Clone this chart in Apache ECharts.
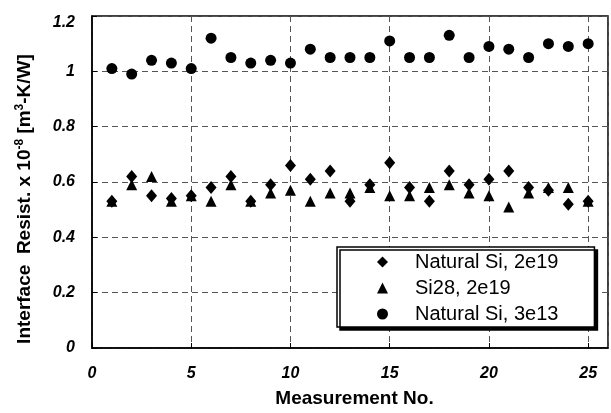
<!DOCTYPE html>
<html>
<head>
<meta charset="utf-8">
<title>Interface Resist.</title>
<script src="https://cdn.jsdelivr.net/npm/echarts@6/dist/echarts.min.js"></script>
<style>
	html, body { margin: 0; padding: 0; background: #fff; }
	#resist_chart { width: 611px; height: 413px; }
</style>
</head>
<body>
<div id="resist_chart"></div>
<script>
var measurement_no = [1, 2, 3, 4, 5, 6, 7, 8, 9, 10, 11, 12, 13, 14, 15, 16, 17, 18, 19, 20, 21, 22, 23, 24, 25];
var natural_si_2e19 = [0.53, 0.62, 0.55, 0.54, 0.55, 0.58, 0.62, 0.53, 0.59, 0.66, 0.61, 0.64, 0.53, 0.59, 0.67, 0.58, 0.53, 0.64, 0.59, 0.61, 0.64, 0.58, 0.57, 0.52, 0.53];
var si28_2e19 = [0.53, 0.59, 0.62, 0.53, 0.55, 0.53, 0.59, 0.53, 0.56, 0.57, 0.53, 0.56, 0.56, 0.58, 0.55, 0.55, 0.58, 0.59, 0.56, 0.55, 0.51, 0.56, 0.58, 0.58, 0.53];
var natural_si_3e13 = [1.01, 0.99, 1.04, 1.03, 1.01, 1.12, 1.05, 1.03, 1.04, 1.03, 1.08, 1.05, 1.05, 1.05, 1.11, 1.05, 1.05, 1.13, 1.05, 1.09, 1.08, 1.05, 1.10, 1.09, 1.10];
var series_names = ['Natural Si, 2e19', 'Si28, 2e19', 'Natural Si, 3e13'];

var FONT = '"Liberation Sans", Arial, sans-serif';

var resist_chart = {
	init : function(){
		var myChart = echarts.init(document.getElementById('resist_chart'));
		myChart.setOption(resist_chart.get_options());
	},

	/**
	 * zip x and y into points
	 */
	to_points : function(ys){
		var arr = [];
		for (var i = 0; i < measurement_no.length; i++) {
			arr.push([measurement_no[i], ys[i]]);
		}
		return arr;
	},

	get_options : function(){
		var split_line = {
			show : true,
			lineStyle : { color : '#555', width : 1, type : [6, 4] }
		};
		var tick_font = { fontFamily : FONT, fontSize : 16, fontWeight : 'bold', fontStyle : 'italic', color : '#000' };
		var option = {
			animation : false,
			backgroundColor : '#fff',
			grid : {
				left : 92, top : 16, right : 3, bottom : 64,
				show : true, borderColor : '#000', borderWidth : 1.5,
				backgroundColor : 'transparent'
			},
			legend : {
				orient : 'vertical',
				left : 337, top : 247,
				data : series_names,
				itemWidth : 11, itemHeight : 11,
				itemGap : 6,
				padding : [5, 36, 3, 40],
				backgroundColor : '#fff',
				borderColor : '#000', borderWidth : 1.5,
				shadowColor : '#000', shadowBlur : 0,
				shadowOffsetX : 3, shadowOffsetY : 3,
				textStyle : { fontFamily : FONT, fontSize : 20, lineHeight : 20, color : '#000', padding : [0, 0, 0, 22] }
			},
			xAxis : {
				type : 'value',
				min : 0, max : 26, interval : 5,
				name : 'Measurement No.',
				nameLocation : 'middle',
				nameGap : 41,
				nameTextStyle : { fontFamily : FONT, fontSize : 19, fontWeight : 'bold', color : '#000', padding : [0, 0, 0, 9] },
				axisLine : { lineStyle : { color : '#000', width : 1.5 } },
				axisTick : { inside : true, length : 5, lineStyle : { color : '#000' } },
				axisLabel : echarts.util.extend({ margin : 18, showMaxLabel : false }, tick_font),
				splitLine : split_line
			},
			yAxis : {
				type : 'value',
				min : 0, max : 1.2, interval : 0.2,
				name : 'Interface  Resist. x 10{sup|-8} [m{sup|3}-K/W]',
				nameLocation : 'middle',
				nameGap : 56,
				nameTextStyle : {
					fontFamily : FONT, fontSize : 19, fontWeight : 'bold', color : '#000',
					padding : [0, 34, 0, 0],
					rich : {
						sup : { fontFamily : FONT, fontSize : 12, fontWeight : 'bold', color : '#000', verticalAlign : 'top', lineHeight : 22 }
					}
				},
				axisLine : { lineStyle : { color : '#000', width : 1.5 } },
				axisTick : { inside : true, length : 5, lineStyle : { color : '#000' } },
				axisLabel : echarts.util.extend({
					margin : 17,
					// top label sits a bit below its tick, as in the original
					formatter : function(v){
						return v >= 1.2 ? '{top|' + v + '}' : String(v);
					},
					rich : {
						top : echarts.util.extend({ padding : [14, 0, 0, 0] }, tick_font)
					}
				}, tick_font),
				splitLine : split_line
			},
			series : [
				{
					name : series_names[0], type : 'scatter',
					symbol : 'diamond', symbolSize : [11, 13],
					itemStyle : { color : '#000', opacity : 1 },
					data : resist_chart.to_points(natural_si_2e19)
				},
				{
					name : series_names[1], type : 'scatter',
					symbol : 'triangle', symbolSize : [11, 11],
					itemStyle : { color : '#000', opacity : 1 },
					data : resist_chart.to_points(si28_2e19)
				},
				{
					name : series_names[2], type : 'scatter',
					symbol : 'circle', symbolSize : 11,
					itemStyle : { color : '#000', opacity : 1 },
					data : resist_chart.to_points(natural_si_3e13)
				}
			]
		};
		return option;
	}
};

resist_chart.init();
</script>
</body>
</html>
